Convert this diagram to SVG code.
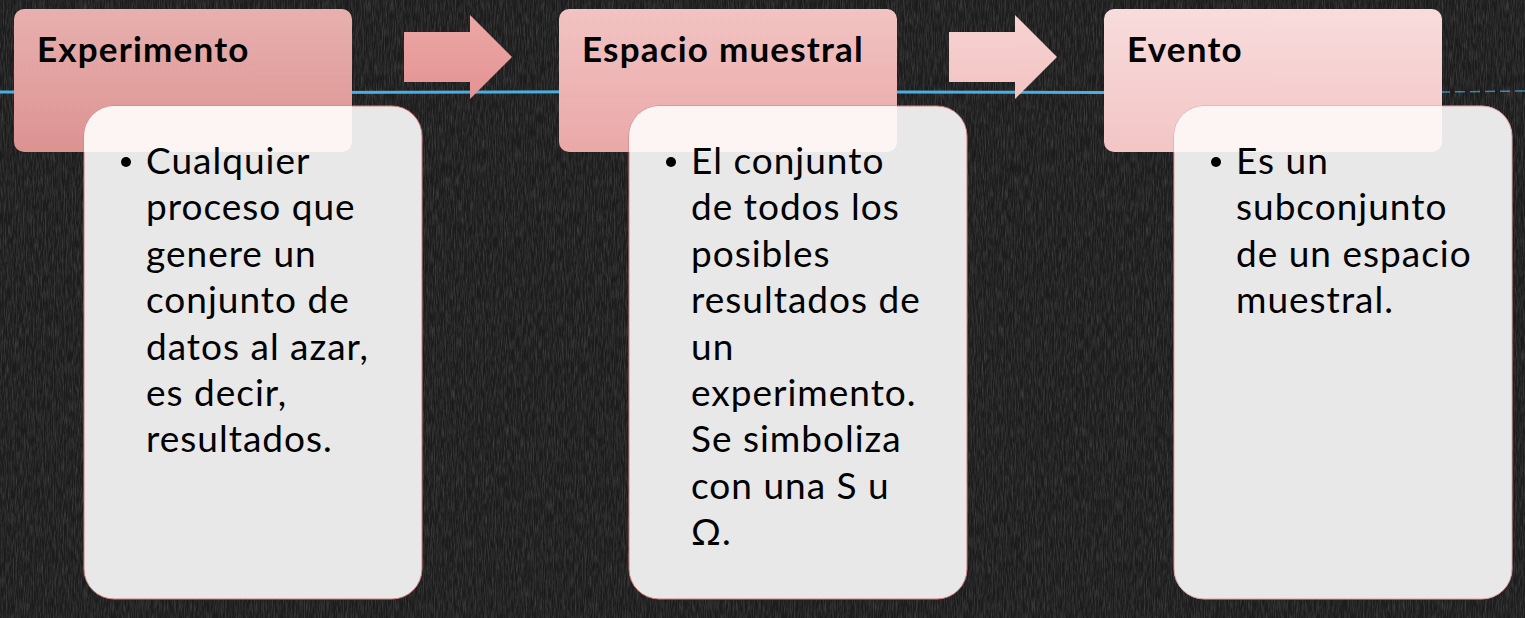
<svg xmlns="http://www.w3.org/2000/svg" width="1525" height="618" viewBox="0 0 1525 618">
<style>
.title{font-family:Lato,"Open Sans","Liberation Sans",sans-serif;font-weight:bold;font-size:35px;letter-spacing:1.2px;fill:#000}
.body{font-family:Lato,"Open Sans","Liberation Sans",sans-serif;font-size:37px;letter-spacing:1px;fill:#000}
.box{fill:#e8e8e8;stroke:#d47a7a;stroke-width:1}
.hl{fill:#fcf5f4}
</style>
<defs>
<linearGradient id="g1" x1="0" y1="0" x2="0" y2="1"><stop offset="0" stop-color="#e7b0ae"/><stop offset="1" stop-color="#dc9392"/></linearGradient>
<linearGradient id="g2" x1="0" y1="0" x2="0" y2="1"><stop offset="0" stop-color="#f1c3c2"/><stop offset="1" stop-color="#eaa8a8"/></linearGradient>
<linearGradient id="g3" x1="0" y1="0" x2="0" y2="1"><stop offset="0" stop-color="#f8dcdc"/><stop offset="1" stop-color="#f3c5c5"/></linearGradient>
<linearGradient id="ga1" x1="0" y1="0" x2="0" y2="1"><stop offset="0" stop-color="#eba8a6"/><stop offset="1" stop-color="#e49393"/></linearGradient>
<linearGradient id="ga2" x1="0" y1="0" x2="0" y2="1"><stop offset="0" stop-color="#f7d3d2"/><stop offset="1" stop-color="#f2c3c3"/></linearGradient>
<filter id="noise" x="0" y="0" width="100%" height="100%">
<feTurbulence type="fractalNoise" baseFrequency="0.9 0.08" numOctaves="3" seed="4"/>
<feColorMatrix type="matrix" values="0 0 0 0 1  0 0 0 0 1  0 0 0 0 1  0.7 0 0 0 -0.25"/>
</filter>
<clipPath id="c1"><rect x="14" y="9" width="338" height="143" rx="10"/></clipPath>
<clipPath id="c2"><rect x="559" y="9" width="338" height="143" rx="10"/></clipPath>
<clipPath id="c3"><rect x="1104" y="9" width="338" height="143" rx="10"/></clipPath>
</defs>
<rect width="1525" height="618" fill="#1c1c1c"/>
<rect width="1525" height="618" filter="url(#noise)" opacity="0.4"/>
<path d="M0 92 L300 92.5 L700 91.5 L1100 92.5 L1440 92" stroke="#4aaee0" stroke-width="3" fill="none"/>
<path d="M1440 92 L1525 91" stroke="#4aaee0" stroke-width="1.5" stroke-dasharray="10 5" fill="none" opacity="0.7"/>
<g id="connectors">
<path d="M404 32 H470 V15 L512 57 L470 99 V82 H404 Z" fill="url(#ga1)"/>
<path d="M949 32 H1015 V15 L1057 57 L1015 99 V82 H949 Z" fill="url(#ga2)"/>
</g>
<g id="node1">
<rect x="14" y="9" width="338" height="143" rx="10" fill="url(#g1)"/>
<rect class="box" x="84" y="106" width="338" height="493" rx="30"/>
<rect class="hl" x="84" y="106" width="338" height="493" rx="30" clip-path="url(#c1)"/>
<text class="title" x="37" y="62">Experimento</text>
<circle cx="126" cy="162" r="5"/>
<text class="body" x="146" y="174">Cualquier<tspan x="146" dy="46.4">proceso que</tspan><tspan x="146" dy="46.4">genere un</tspan><tspan x="146" dy="46.4">conjunto de</tspan><tspan x="146" dy="46.4">datos al azar,</tspan><tspan x="146" dy="46.4">es decir,</tspan><tspan x="146" dy="46.4">resultados.</tspan></text>
</g>
<g id="node2">
<rect x="559" y="9" width="338" height="143" rx="10" fill="url(#g2)"/>
<rect class="box" x="629" y="106" width="338" height="493" rx="30"/>
<rect class="hl" x="629" y="106" width="338" height="493" rx="30" clip-path="url(#c2)"/>
<text class="title" x="582" y="62">Espacio muestral</text>
<circle cx="671" cy="162" r="5"/>
<text class="body" x="691" y="174">El conjunto<tspan x="691" dy="46.4">de todos los</tspan><tspan x="691" dy="46.4">posibles</tspan><tspan x="691" dy="46.4">resultados de</tspan><tspan x="691" dy="46.4">un</tspan><tspan x="691" dy="46.4">experimento.</tspan><tspan x="691" dy="46.4">Se simboliza</tspan><tspan x="691" dy="46.4">con una S u</tspan><tspan x="691" dy="46.4">Ω.</tspan></text>
</g>
<g id="node3">
<rect x="1104" y="9" width="338" height="143" rx="10" fill="url(#g3)"/>
<rect class="box" x="1174" y="106" width="338" height="493" rx="30" style="stroke:#e0a0a0"/>
<rect class="hl" x="1174" y="106" width="338" height="493" rx="30" clip-path="url(#c3)"/>
<text class="title" x="1127" y="62">Evento</text>
<circle cx="1216" cy="162" r="5"/>
<text class="body" x="1236" y="174">Es un<tspan x="1236" dy="46.4">subconjunto</tspan><tspan x="1236" dy="46.4">de un espacio</tspan><tspan x="1236" dy="46.4">muestral.</tspan></text>
</g>
</svg>
